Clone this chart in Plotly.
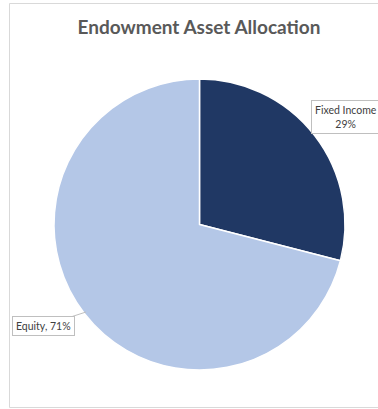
import plotly.graph_objects as go

# Endowment portfolio split
categories = ["Fixed Income", "Equity"]
shares = [29, 71]
colors = ["#203864", "#B4C7E7"]

W, H = 378, 409

fig = go.Figure(
    go.Pie(
        labels=categories,
        values=shares,
        sort=False,
        direction="clockwise",
        rotation=0,
        marker=dict(colors=colors, line=dict(color="white", width=1.5)),
        textinfo="none",
        hoverinfo="label+percent",
        domain=dict(x=[54 / W, 345 / W], y=[(H - 370) / H, (H - 79) / H]),
        showlegend=False,
    )
)

label_font = dict(family="Lato, Open Sans, sans-serif", size=10.5, color="#404040")

fig.add_annotation(
    xref="paper", yref="paper",
    x=346 / W, y=1 - 116.5 / H,
    xanchor="center", yanchor="middle",
    text=f"{categories[0]}<br>{shares[0]}%",
    showarrow=False,
    font=label_font,
    bgcolor="white", bordercolor="#BFBFBF", borderwidth=1, borderpad=3,
    align="center",
)
fig.add_annotation(
    xref="paper", yref="paper",
    x=86 / W, y=1 - 312 / H,
    ax=-43, ay=14,
    text=f"{categories[1]}, {shares[1]}%",
    showarrow=True, arrowhead=0, arrowwidth=1, arrowcolor="#BFBFBF",
    font=label_font,
    bgcolor="white", bordercolor="#BFBFBF", borderwidth=1, borderpad=3,
)

# chart-area frame
fig.add_shape(
    type="rect", xref="paper", yref="paper",
    x0=9.5 / W, x1=1.02, y0=1 - 407.5 / H, y1=1 - 3.5 / H,
    line=dict(color="#D9D9D9", width=1), fillcolor="rgba(0,0,0,0)",
    layer="below",
)

fig.update_layout(
    width=W, height=H,
    margin=dict(l=0, r=0, t=0, b=0),
    paper_bgcolor="white",
    plot_bgcolor="white",
    title=dict(
        text="<b>Endowment Asset Allocation</b>",
        x=199 / W, xanchor="center",
        y=1 - 27 / H, yanchor="middle",
        font=dict(family="Lato, Open Sans, sans-serif", size=19, color="#595959"),
    ),
)

fig.write_html("out.html")
